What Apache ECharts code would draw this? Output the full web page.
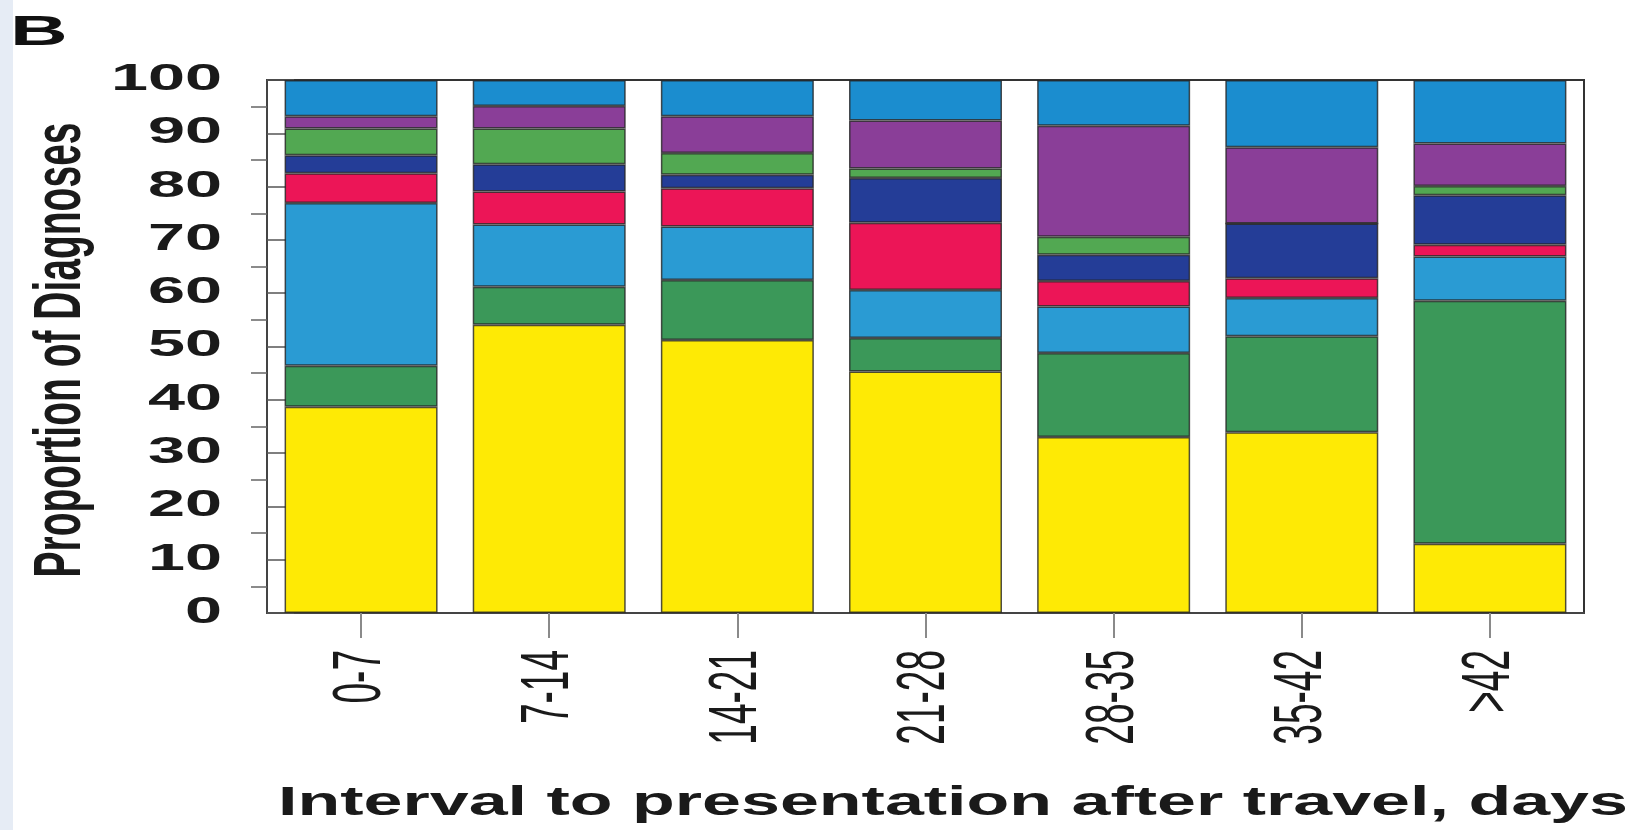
<!DOCTYPE html>
<html>
<head>
<meta charset="utf-8">
<title>Proportion of Diagnoses by Interval to Presentation</title>
<script src="https://cdn.jsdelivr.net/npm/echarts@6/dist/echarts.min.js"></script>
<style>
  html, body { margin: 0; padding: 0; background: #ffffff; }
  #chart { width: 1632px; height: 830px; }
</style>
</head>
<body>
<div id="chart"></div>
<script>
// Interval categories (days after travel)
const categories = ['0-7', '7-14', '14-21', '21-28', '28-35', '35-42', '>42'];

// Stacked shares (%) per interval, listed bottom to top
const yellowShare     = [38.7, 54.1, 51.2, 45.3, 33.0, 33.9, 13.0];
const greenShare      = [7.7, 7.1, 11.3, 6.3, 15.8, 18.0, 45.6];
const lightBlueShare  = [30.5, 11.7, 10.0, 9.0, 8.7, 7.2, 8.3];
const redShare        = [5.6, 6.2, 7.2, 12.6, 4.8, 3.7, 2.2];
const darkBlueShare   = [3.4, 5.1, 2.5, 8.4, 4.9, 10.3, 9.3];
const lightGreenShare = [5.0, 6.7, 4.1, 1.8, 3.4, 0.0, 1.7];
const purpleShare     = [2.3, 4.2, 6.9, 9.0, 20.8, 14.3, 8.0];
const topBlueShare    = [6.8, 4.9, 6.8, 7.6, 8.6, 12.6, 11.9];

// Axis ticks
const yTickLabels = [0, 10, 20, 30, 40, 50, 60, 70, 80, 90, 100];
const yMinorTicks = [5, 15, 25, 35, 45, 55, 65, 75, 85, 95];

const yTitle = 'Proportion of Diagnoses';
const xTitle = 'Interval to presentation after travel, days';
const panelLetter = 'B';

const layers = [
  { name: 'yellow',     data: yellowShare,     color: '#FEEA05' },
  { name: 'green',      data: greenShare,      color: '#3B9859' },
  { name: 'lightBlue',  data: lightBlueShare,  color: '#2A9BD3' },
  { name: 'red',        data: redShare,        color: '#EC1557' },
  { name: 'darkBlue',   data: darkBlueShare,   color: '#243D97' },
  { name: 'lightGreen', data: lightGreenShare, color: '#52A852' },
  { name: 'purple',     data: purpleShare,     color: '#8A3E98' },
  { name: 'topBlue',    data: topBlueShare,    color: '#1B8DCF' }
];

const FONT = '"Liberation Sans", Arial, Helvetica, sans-serif';
const STRETCH = 1.85;

const chart = echarts.init(document.getElementById('chart'), null, { renderer: 'canvas' });

const option = {
  backgroundColor: '#ffffff',
  animation: false,
  grid: {
    left: 267, right: 48, top: 80, bottom: 217,
    show: true,
    borderColor: '#333333',
    borderWidth: 2,
    backgroundColor: 'transparent'
  },
  xAxis: {
    type: 'category',
    data: categories,
    boundaryGap: true,
    axisLine: { show: true, lineStyle: { color: '#444444', width: 2 } },
    axisTick: { show: true, alignWithLabel: true, length: 25, lineStyle: { color: '#8a8a8a', width: 2 } },
    axisLabel: { show: false },
    splitLine: { show: false }
  },
  yAxis: [
    {
      type: 'value', min: 0, max: 100, interval: 10,
      axisLine: { show: true, lineStyle: { color: '#444444', width: 2 } },
      axisTick: { show: true, inside: true, length: 27, lineStyle: { color: '#555555', width: 1.5 } },
      axisLabel: { show: false },
      splitLine: { show: false }
    },
    {
      type: 'value', min: 0, max: 100, interval: 5, position: 'left',
      axisLine: { show: false },
      axisTick: { show: true, inside: false, length: 16, customValues: yMinorTicks, lineStyle: { color: '#666666', width: 1.5 } },
      axisLabel: { show: false },
      splitLine: { show: false }
    }
  ],
  series: layers.map(l => ({
    name: l.name,
    type: 'bar',
    stack: 'share',
    data: l.data,
    barWidth: 153,
    itemStyle: { color: l.color, borderColor: 'rgba(35,35,35,0.8)', borderWidth: 1.5 }
  }))
};

chart.setOption(option);

// Text drawn with horizontal stretch, positioned through the chart's own axes
const elements = [];

elements.push({
  type: 'rect', z: -10, silent: true,
  shape: { x: 0, y: 0, width: 13, height: 830 },
  style: { fill: '#E6ECF5' }
});

yTickLabels.forEach(v => {
  const py = chart.convertToPixel({ yAxisIndex: 0 }, v);
  elements.push({
    type: 'text', x: 222, y: py, scaleX: STRETCH,
    style: {
      text: String(v), font: 'bold 36px ' + FONT, fill: '#1a1a1a',
      align: 'right', verticalAlign: 'middle',
      textAlign: 'right', textVerticalAlign: 'middle'
    }
  });
});

categories.forEach((c, i) => {
  const px = chart.convertToPixel({ xAxisIndex: 0 }, i);
  elements.push({
    type: 'text', x: px, y: 650, rotation: Math.PI / 2, scaleY: 1.85,
    style: {
      text: c, font: '37px ' + FONT, fill: '#1a1a1a',
      align: 'right', verticalAlign: 'middle',
      textAlign: 'right', textVerticalAlign: 'middle'
    }
  });
});

elements.push({
  type: 'text', x: 62, y: 350, rotation: Math.PI / 2, scaleY: 1.7,
  style: {
    text: yTitle, font: 'bold 39px ' + FONT, fill: '#1a1a1a',
    align: 'center', verticalAlign: 'middle',
    textAlign: 'center', textVerticalAlign: 'middle'
  }
});

elements.push({
  type: 'text', x: 953, y: 804, scaleX: 1.75,
  style: {
    text: xTitle, font: 'bold 40px ' + FONT, fill: '#1a1a1a',
    align: 'center', verticalAlign: 'middle',
    textAlign: 'center', textVerticalAlign: 'middle'
  }
});

elements.push({
  type: 'text', x: 10, y: 33, scaleX: 1.9,
  style: {
    text: panelLetter, font: 'bold 42px ' + FONT, fill: '#111111',
    align: 'left', verticalAlign: 'middle',
    textAlign: 'left', textVerticalAlign: 'middle'
  }
});

chart.setOption({ graphic: { elements: elements } });
</script>
</body>
</html>
